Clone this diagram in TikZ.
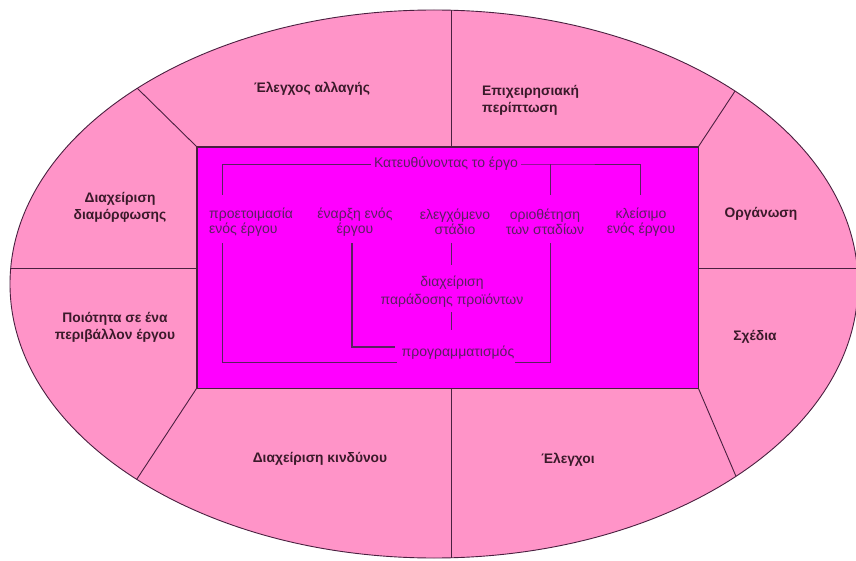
\documentclass[tikz,border=0pt]{standalone}
\usepackage{fontspec}
\setmainfont{Liberation Sans}
\definecolor{petal}{HTML}{FF94C8}
\definecolor{coremag}{HTML}{FF00FF}
\definecolor{rule}{HTML}{4A2040}
\definecolor{ink}{HTML}{3A1A2A}
\definecolor{innerink}{HTML}{5A2060}
\begin{document}
\begin{tikzpicture}[x=1pt,y=-1pt,
  rim/.style={draw=rule, line width=0.9pt},
  divider/.style={draw=rule, line width=0.9pt},
  corebox/.style={draw=rule, line width=0.9pt, fill=coremag, inner sep=0pt},
  area/.style={text=ink, font=\fontsize{13.8}{17}\selectfont\bfseries, align=center, inner sep=1pt},
  task/.style={text=innerink, font=\fontsize{14}{15.5}\selectfont, align=center, inner sep=1pt},
  link/.style={draw=innerink, line width=0.9pt},
  heavylink/.style={draw=innerink, line width=1.8pt}]
\useasboundingbox (0,0) rectangle (856,561);

% outer ring
\path[fill=petal] (434,284) ellipse [x radius=424pt, y radius=274pt];

% central block
\node[corebox, minimum width=501pt, minimum height=241pt] (core) at (447.5,267.5) {};

% free ends of the dividers (beyond the rim, clipped)
\coordinate (t-end) at (451,0);
\coordinate (b-end) at (451,561);
\coordinate (l-end) at (0,268);
\coordinate (r-end) at (856,268);
\coordinate (nw-end) at (77,29);
\coordinate (ne-end) at (776,29);
\coordinate (sw-end) at (77,570);
\coordinate (se-end) at (776,570);

\begin{scope}
  \clip (434,284) ellipse [x radius=424pt, y radius=274pt];
  \draw[divider] (t-end |- core.north) -- (t-end);
  \draw[divider] (b-end |- core.south) -- (b-end);
  \draw[divider] (core.west |- l-end) -- (l-end);
  \draw[divider] (core.east |- r-end) -- (r-end);
  \draw[divider] (core.north west) -- (nw-end);
  \draw[divider] (core.north east) -- (ne-end);
  \draw[divider] (core.south west) -- (sw-end);
  \draw[divider] (core.south east) -- (se-end);
\end{scope}
\draw[rim] (434,284) ellipse [x radius=424pt, y radius=274pt];
\draw[corebox, fill=none] (core.north west) rectangle (core.south east);

% outer segments
\node[area] (change) at (312,89) {Έλεγχος αλλαγής};
\node[area, align=left, anchor=west] (case) at (481,100) {Επιχειρησιακή\\περίπτωση};
\node[area] (config) at (120,207) {Διαχείριση\\διαμόρφωσης};
\node[area] (quality) at (115,327) {Ποιότητα σε ένα\\περιβάλλον έργου};
\node[area] (org) at (761,214) {Οργάνωση};
\node[area] (plans) at (755,337) {Σχέδια};
\node[area] (risk) at (320,459) {Διαχείριση κινδύνου};
\node[area] (controls) at (568,460) {Έλεγχοι};

% process tree inside the block
\coordinate (p-top) at (222,195);
\coordinate (b-top) at (550,195);
\coordinate (c-top) at (640,195);
\coordinate (p-bot) at (222,243);
\coordinate (s-bot) at (352,243);
\coordinate (m-bot) at (451,243);
\coordinate (b-bot) at (550,243);
\coordinate (d-in) at (451,265);
\coordinate (d-out) at (451,312);
\coordinate (d-end) at (451,330);
\coordinate (q-left) at (397,362);
\coordinate (q-right) at (515,362);
\coordinate (q-mid) at (395,347);

\draw[link] (p-top) |- (b-top |- 0,164) -- (c-top |- 0,164) -- (c-top);
\draw[link] (b-top |- 0,164) -- (b-top);
\node[task, fill=coremag, inner xsep=3pt] (steer) at (446,164) {Κατευθύνοντας το έργο};

\node[task, align=left, anchor=west] (prep) at (208,222) {προετοιμασία\\ενός έργου};
\node[task] (start) at (355,222) {έναρξη ενός\\έργου};
\node[task] (stage) at (455,222) {ελεγχόμενο\\στάδιο};
\node[task] (bounds) at (545,222) {οριοθέτηση\\των σταδίων};
\node[task] (close) at (641,222) {κλείσιμο\\ενός έργου};
\node[task, font=\fontsize{14}{18}\selectfont] (deliver) at (452,292) {διαχείριση\\παράδοσης προϊόντων};
\node[task] (sched) at (458,353) {προγραμματισμός};

\draw[link] (p-bot) |- (q-left);
\draw[link] (q-right) -| (b-bot);
\draw[heavylink] (s-bot) |- (q-mid);
\draw[link] (m-bot) -- (d-in);
\draw[link] (d-out) -- (d-end);
\end{tikzpicture}
\end{document}
